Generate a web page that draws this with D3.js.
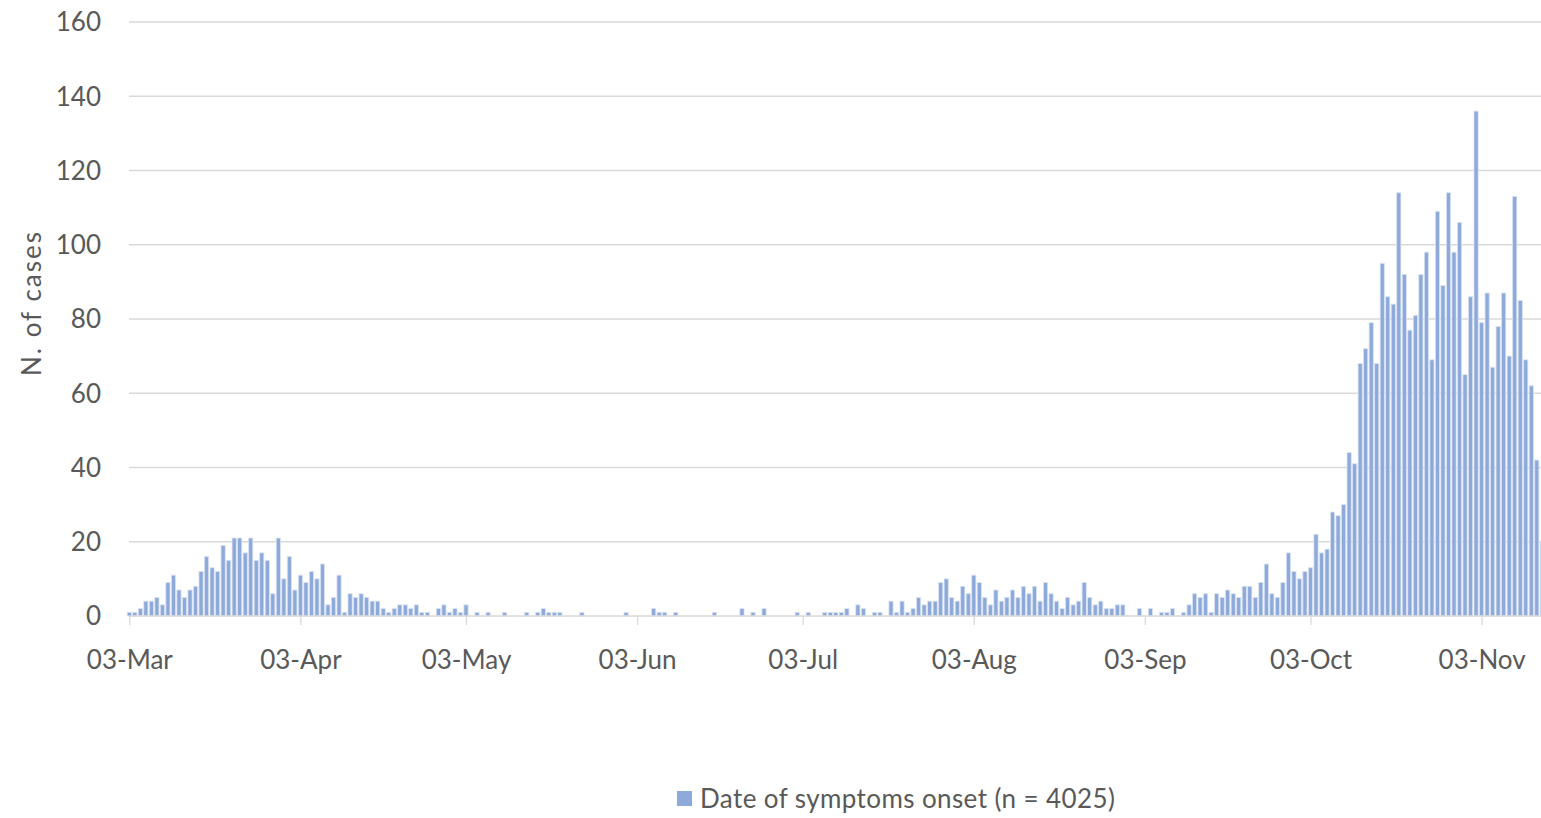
<!DOCTYPE html>
<meta charset="utf-8">
<style>

body
{
  margin: 0;
  background: #fff;
}

text
{
  font-family: Lato, "Open Sans", sans-serif;
  fill: #595959;
}

.grid line
{
  stroke: #d9d9d9;
  stroke-width: 1.3px;
}

.bars rect
{
  fill: #8eaadb;
  stroke: #dae3f3;
  stroke-width: 0.8px;
}

</style>
<svg width="1541" height="818"></svg>
<script src="https://d3js.org/d3.v7.min.js"></script>
<script>

// daily cases by date of symptoms onset, from 03-Mar
var marCases = [1,1,2,4,4,5,3,9,11,7,5,7,8,12,16,13,12,19,15,21,21,17,21,15,17,15,6,21,10];
var aprCases = [16,7,11,9,12,10,14,3,5,11,1,6,5,6,5,4,4,2,1,2,3,3,2,3,1,1,0,2,3,1];
var mayCases = [2,1,3,0,1,0,1,0,0,1,0,0,0,1,0,1,2,1,1,1,0,0,0,1,0,0,0,0,0,0,0];
var junCases = [1,0,0,0,0,2,1,1,0,1,0,0,0,0,0,0,1,0,0,0,0,2,0,1,0,2,0,0,0,0];
var julCases = [0,1,0,1,0,0,1,1,1,1,2,0,3,2,0,1,1,0,4,1,4,1,2,5,3,4,4,9,10,5,4];
var augCases = [8,6,11,9,5,3,7,4,5,7,5,8,6,8,4,9,6,4,2,5,3,4,9,5,3,4,2,2,3,3,0];
var sepCases = [0,2,0,2,0,1,1,2,0,1,3,6,5,6,1,6,5,7,6,5,8,8,5,9,14,6,5,9,17,12];
var octCases = [10,12,13,22,17,18,28,27,30,44,41,68,72,79,68,95,86,84,114,92,77,81,92,98,69,109,89,114,98,106,65];
var novCases = [86,136,79,87,67,78,87,70,113,85,69,62,42,20];

var yTicks = [0, 20, 40, 60, 80, 100, 120, 140, 160];
var xTickDates = ["2020-03-03","2020-04-03","2020-05-03","2020-06-03","2020-07-03",
                  "2020-08-03","2020-09-03","2020-10-03","2020-11-03"];
var seriesName = "Date of symptoms onset (n = 4025)";

var svg = d3.select("svg"),
    width = +svg.attr("width"),
    height = +svg.attr("height");

var start = new Date(Date.UTC(2020, 2, 3));
var cases = [].concat(marCases, aprCases, mayCases, junCases, julCases,
                      augCases, sepCases, octCases, novCases);
var data = cases.map(function(v, i) {
  return { date: d3.utcDay.offset(start, i), value: v };
});

var plotLeft = 129, plotRight = 1541, plotBottom = 616, plotTop = 22;

var x = d3.scaleUtc()
    .domain([start, new Date(Date.UTC(2020, 10, 3))])
    .range([129.3, 1481.6]);

var y = d3.scaleLinear()
    .domain([0, 160])
    .range([plotBottom, plotTop]);

var dayW = x(d3.utcDay.offset(start, 1)) - x(start);
var barW = dayW * 0.76;

// gridlines
svg.append("g")
    .attr("class", "grid")
  .selectAll("line")
  .data(yTicks.slice(1))
  .enter().append("line")
    .attr("x1", plotLeft)
    .attr("x2", plotRight)
    .attr("y1", function(d) { return y(d); })
    .attr("y2", function(d) { return y(d); });

// bars
svg.append("g")
    .attr("class", "bars")
  .selectAll("rect")
  .data(data.filter(function(d) { return d.value > 0; }))
  .enter().append("rect")
    .attr("x", function(d) { return x(d.date) - barW / 2; })
    .attr("width", barW)
    .attr("y", function(d) { return y(d.value); })
    .attr("height", function(d) { return y(0) - y(d.value); });

// x axis
var xAxis = svg.append("g")
    .attr("transform", "translate(0," + plotBottom + ")")
    .call(d3.axisBottom(x)
        .tickValues(xTickDates.map(function(s) { return new Date(s + "T00:00:00Z"); }))
        .tickFormat(d3.utcFormat("%d-%b"))
        .tickSize(9)
        .tickSizeOuter(0));

xAxis.select(".domain").remove();
xAxis.insert("line", ":first-child")
    .attr("x1", plotLeft).attr("x2", plotRight)
    .attr("stroke", "#d9d9d9")
    .attr("stroke-width", 1.5);
xAxis.selectAll(".tick line")
    .attr("stroke", "#d9d9d9")
    .attr("stroke-width", 1.3);
xAxis.selectAll(".tick text")
    .attr("y", 53)
    .attr("dy", null)
    .style("font-size", "26px")
    .style("font-family", "Lato, sans-serif")
    .attr("fill", "#595959");

// y labels
svg.append("g")
  .selectAll("text")
  .data(yTicks)
  .enter().append("text")
    .attr("x", 101)
    .attr("y", function(d) { return y(d); })
    .attr("dy", "0.36em")
    .attr("text-anchor", "end")
    .style("font-size", "26px")
    .text(function(d) { return d; });

svg.append("text")
    .attr("transform", "translate(41,303) rotate(-90)")
    .attr("text-anchor", "middle")
    .style("font-size", "26px")
    .style("letter-spacing", "2px")
    .text("N. of cases");

// legend
var legend = svg.append("g")
    .attr("transform", "translate(677,791)");

legend.append("rect")
    .attr("width", 15)
    .attr("height", 15)
    .attr("fill", "#8eaadb");

legend.append("text")
    .attr("x", 23)
    .attr("y", 8)
    .attr("dy", "0.36em")
    .style("font-size", "26px")
    .style("letter-spacing", "0.4px")
    .text(seriesName);

</script>
